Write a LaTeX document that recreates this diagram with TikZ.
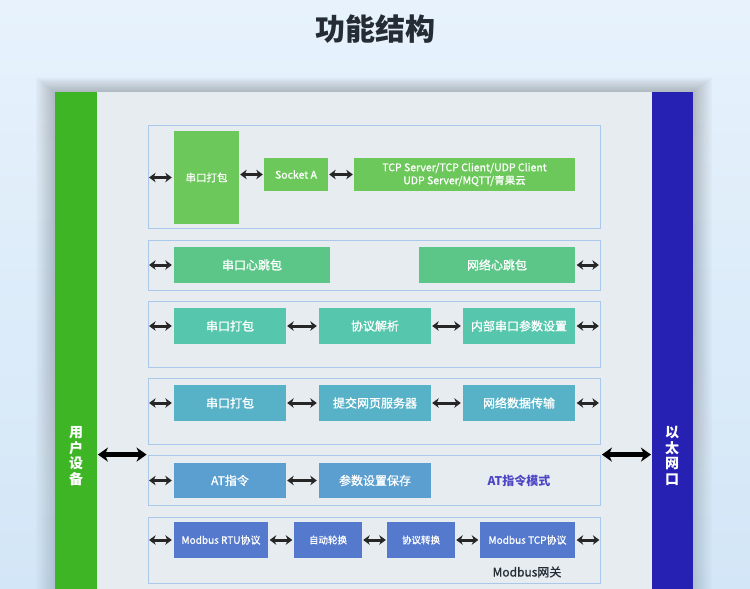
\documentclass[tikz,border=0pt]{standalone}
\usepackage{fontspec}
\setmainfont{Noto Sans CJK SC}
\newfontfamily\medf{Noto Sans CJK SC}[FakeBold=1.0]
\usetikzlibrary{arrows.meta}
\definecolor{bgtop}{HTML}{E7F2FC}
\definecolor{bgbot}{HTML}{D3E6F7}
\definecolor{shade}{HTML}{6FA6EA}
\definecolor{panel}{HTML}{E7ECF1}
\definecolor{barg}{HTML}{3DB524}
\definecolor{barb}{HTML}{2621B2}
\definecolor{grpline}{HTML}{A9C8EA}
\definecolor{rowA}{HTML}{6CC85A}
\definecolor{rowB}{HTML}{5BC688}
\definecolor{rowC}{HTML}{56C6AC}
\definecolor{rowD}{HTML}{57B2C8}
\definecolor{rowE}{HTML}{5A9FD0}
\definecolor{rowF}{HTML}{5579CC}
\definecolor{arrc}{HTML}{262626}
\definecolor{titlec}{HTML}{252C34}
\definecolor{modec}{HTML}{4D45C4}
\tikzset{
  blk/.style={draw=none, inner sep=0pt, text=white, align=center, font=\medf\fontsize{12}{14}\selectfont},
  grp/.style={draw=grpline, line width=0.8pt, inner sep=0pt, minimum width=452pt},
  arr/.style={draw=arrc, line width=3pt, {Stealth[length=6.5pt,width=9.5pt,inset=2pt]}-{Stealth[length=6.5pt,width=9.5pt,inset=2pt]}},
  bigarr/.style={draw=black, line width=4.6pt, {Stealth[length=10pt,width=14pt,inset=3pt]}-{Stealth[length=10pt,width=14pt,inset=3pt]}},
  side/.style={text=white, font=\fontsize{14}{15.5}\selectfont\bfseries, align=center, inner sep=0pt}
}
\begin{document}
\begin{tikzpicture}[x=1pt,y=-1pt]
\useasboundingbox (0,0) rectangle (750,589);
% background
\shade[top color=bgtop, bottom color=bgbot] (0,0) rectangle (750,589);
% panel shadow
\foreach \i in {1,...,12} {
  \fill[shade, opacity=0.012] (55-\i*1.6,92-\i*1.2) rectangle (693+\i*1.6,589);
}
% title
\node[text=titlec, font=\fontsize{30}{32}\selectfont\bfseries] (title) at (375,29) {功能结构};
% panel
\fill[panel] (97,92) rectangle (652,589);
% bars
\node[fill=barg, minimum width=42pt, minimum height=497pt, anchor=north west, inner sep=0pt] (gbar) at (55,92) {};
\node[fill=barb, minimum width=41pt, minimum height=497pt, anchor=north west, inner sep=0pt] (bbar) at (652,92) {};
\node[side] (glabel) at (76,456) {用\\户\\设\\备};
\node[side] (blabel) at (672,456) {以\\太\\网\\口};
% groups
\node[grp, minimum height=103pt] (g1) at (374,176.5) {};
\node[grp, minimum height=50pt] (g2) at (374,265) {};
\node[grp, minimum height=66pt] (g3) at (374,334) {};
\node[grp, minimum height=66pt] (g4) at (374,411) {};
\node[grp, minimum height=50pt] (g5) at (374,480) {};
\node[grp, minimum height=66pt] (g6) at (374,550) {};
% row 1
\node[blk, fill=rowA, minimum width=65pt, minimum height=93pt, font=\medf\fontsize{10.5}{12}\selectfont] (a1) at (206.5,177.5) {串口打包};
\node[blk, fill=rowA, minimum width=64pt, minimum height=33pt, font=\medf\fontsize{10.5}{12}\selectfont] (a2) at (296,174.5) {Socket A};
\node[blk, fill=rowA, minimum width=221pt, minimum height=33pt, font=\medf\fontsize{10.5}{13}\selectfont] (a3) at (464.5,174.5) {TCP Server/TCP Client/UDP Client\\UDP Server/MQTT/青果云};
% row 2
\node[blk, fill=rowB, minimum width=156pt, minimum height=36pt] (b1) at (252,265) {串口心跳包};
\node[blk, fill=rowB, minimum width=156pt, minimum height=36pt] (b2) at (497,265) {网络心跳包};
% row 3
\node[blk, fill=rowC, minimum width=112pt, minimum height=36pt] (c1) at (230,326) {串口打包};
\node[blk, fill=rowC, minimum width=112pt, minimum height=36pt] (c2) at (375,326) {协议解析};
\node[blk, fill=rowC, minimum width=112pt, minimum height=36pt] (c3) at (519,326) {内部串口参数设置};
% row 4
\node[blk, fill=rowD, minimum width=112pt, minimum height=36pt] (d1) at (230,403) {串口打包};
\node[blk, fill=rowD, minimum width=112pt, minimum height=36pt] (d2) at (375,403) {提交网页服务器};
\node[blk, fill=rowD, minimum width=112pt, minimum height=36pt] (d3) at (519,403) {网络数据传输};
% row 5
\node[blk, fill=rowE, minimum width=112pt, minimum height=35pt] (e1) at (230,480.5) {AT指令};
\node[blk, fill=rowE, minimum width=112pt, minimum height=35pt] (e2) at (375,480.5) {参数设置保存};
\node[text=modec, font=\fontsize{12}{14}\selectfont\bfseries, inner sep=0pt] (emode) at (519,481) {AT指令模式};
% row 6
\node[blk, fill=rowF, minimum width=94pt, minimum height=36pt, font=\medf\fontsize{10}{12}\selectfont] (f1) at (221,540) {Modbus RTU协议};
\node[blk, fill=rowF, minimum width=68pt, minimum height=36pt, font=\medf\fontsize{9.5}{12}\selectfont] (f2) at (328,540) {自动轮换};
\node[blk, fill=rowF, minimum width=68pt, minimum height=36pt, font=\medf\fontsize{9.5}{12}\selectfont] (f3) at (421,540) {协议转换};
\node[blk, fill=rowF, minimum width=95pt, minimum height=36pt, font=\medf\fontsize{10}{12}\selectfont] (f4) at (527.5,540) {Modbus TCP协议};
\node[text=titlec, font=\medf\fontsize{12}{14}\selectfont, inner sep=0pt] (fgw) at (527,572) {Modbus网关};
% arrows
\draw[arr, shorten <=1.5pt, shorten >=2pt] (g1.west |- a1.west) -- (a1.west);
\draw[arr, shorten <=1pt, shorten >=1pt] (a1.east |- a2.west) -- (a2.west);
\draw[arr, shorten <=1pt, shorten >=1pt] (a2.east) -- (a3.west);
\draw[arr, shorten <=1.5pt, shorten >=2pt] (g2.west |- b1.west) -- (b1.west);
\draw[arr, shorten <=1.5pt, shorten >=1.5pt] (b2.east) -- (g2.east |- b2.east);
\draw[arr, shorten <=1.5pt, shorten >=2pt] (g3.west |- c1.west) -- (c1.west);
\draw[arr, shorten <=1pt, shorten >=2pt] (c1.east) -- (c2.west);
\draw[arr, shorten <=1pt, shorten >=2pt] (c2.east) -- (c3.west);
\draw[arr, shorten <=1.5pt, shorten >=1.5pt] (c3.east) -- (g3.east |- c3.east);
\draw[arr, shorten <=1.5pt, shorten >=2pt] (g4.west |- d1.west) -- (d1.west);
\draw[arr, shorten <=1pt, shorten >=2pt] (d1.east) -- (d2.west);
\draw[arr, shorten <=1pt, shorten >=2pt] (d2.east) -- (d3.west);
\draw[arr, shorten <=1.5pt, shorten >=1.5pt] (d3.east) -- (g4.east |- d3.east);
\draw[arr, shorten <=1.5pt, shorten >=2pt] (g5.west |- e1.west) -- (e1.west);
\draw[arr, shorten <=1pt, shorten >=2pt] (e1.east) -- (e2.west);
\draw[arr, shorten <=1.5pt, shorten >=2pt] (g6.west |- f1.west) -- (f1.west);
\draw[arr, shorten <=1.5pt, shorten >=1.5pt] (f1.east) -- (f2.west);
\draw[arr, shorten <=1pt, shorten >=1pt] (f2.east) -- (f3.west);
\draw[arr, shorten <=1pt, shorten >=1.5pt] (f3.east) -- (f4.west);
\draw[arr, shorten <=1.5pt, shorten >=1pt] (f4.east) -- (g6.east |- f4.east);
\draw[bigarr, shorten <=0.5pt, shorten >=1pt] (gbar.east |- g5.north) -- (g5.north west);
\draw[bigarr, shorten <=1.5pt, shorten >=1pt] (g5.north east) -- (bbar.west |- g5.north);
\end{tikzpicture}
\end{document}
